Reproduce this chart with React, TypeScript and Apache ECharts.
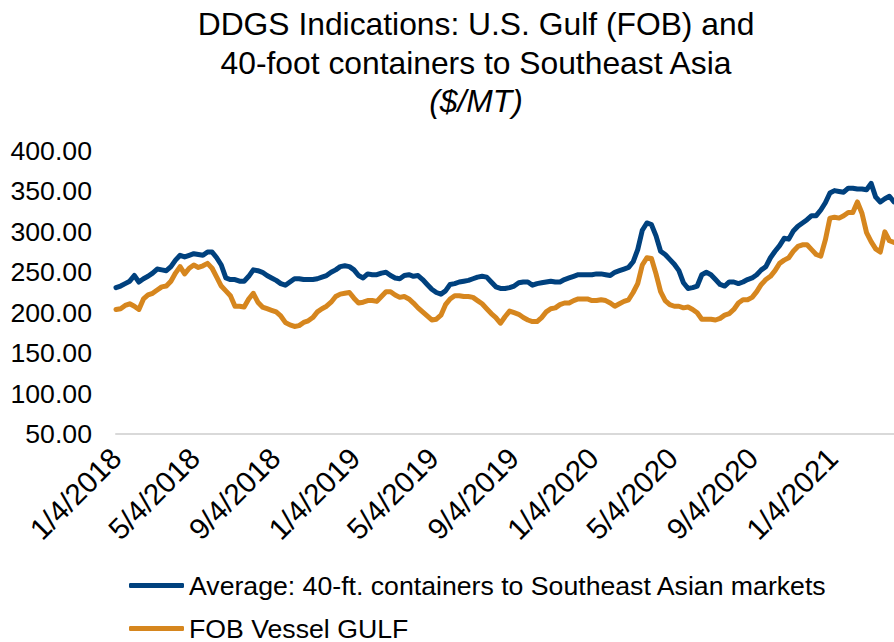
import React, { useEffect, useRef } from "react";
import * as echarts from "echarts";

// Weekly observations starting on this date
const startDate = "1/4/2018";
const weekCount = 171;

const tickLabels = [
  "1/4/2018", "5/4/2018", "9/4/2018", "1/4/2019", "5/4/2019",
  "9/4/2019", "1/4/2020", "5/4/2020", "9/4/2020", "1/4/2021",
];

const yTicks = [50, 100, 150, 200, 250, 300, 350, 400];

const seriesNames = [
  "Average: 40-ft. containers to Southeast Asian markets",
  "FOB Vessel GULF",
];

// Average: 40-ft. containers to Southeast Asian markets ($/MT)
const containerAvg = [
  231, 233, 236, 239, 246, 238, 242, 245, 249, 254, 253, 252, 257, 265, 271, 269, 271, 273, 272, 271,
  275, 275, 268, 259, 243, 241, 241, 239, 239, 245, 253, 252, 250, 246, 243, 240, 236, 234, 238, 242,
  242, 241, 241, 241, 242, 244, 246, 250, 253, 257, 258, 257, 253, 246, 243, 248, 247, 247, 249, 250,
  246, 243, 242, 246, 247, 245, 246, 241, 235, 229, 225, 223, 227, 235, 236, 238, 239, 240, 242, 244,
  245, 244, 238, 232, 230, 230, 231, 233, 237, 238, 238, 234, 236, 237, 238, 239, 238, 238, 241, 243,
  245, 247, 247, 247, 247, 248, 248, 247, 246, 250, 252, 254, 256, 263, 278, 302, 311, 309, 295, 276,
  272, 266, 260, 252, 237, 230, 231, 233, 247, 250, 247, 241, 235, 233, 238, 238, 236, 238, 241, 243,
  247, 253, 257, 268, 276, 283, 292, 291, 301, 307, 311, 315, 320, 320, 327, 336, 348, 351, 350, 349,
  354, 354, 353, 353, 352, 360, 343, 337, 341, 344, 337,
];

// FOB Vessel GULF ($/MT)
const fobGulf = [
  204, 205, 209, 211, 208, 204, 217, 222, 224, 228, 232, 233, 239, 249, 257, 248, 255, 259, 256, 258,
  261, 255, 244, 233, 227, 221, 208, 208, 207, 217, 224, 213, 207, 205, 203, 201, 196, 188, 185, 183,
  184, 188, 190, 194, 201, 205, 208, 213, 220, 223, 224, 225, 218, 212, 213, 215, 215, 214, 220, 226,
  226, 222, 219, 220, 217, 212, 206, 201, 196, 191, 192, 197, 210, 217, 221, 221, 220, 220, 219, 215,
  211, 205, 199, 194, 187, 195, 202, 200, 198, 194, 191, 189, 189, 194, 201, 205, 206, 210, 212, 212,
  215, 217, 217, 217, 215, 215, 216, 215, 212, 208, 211, 214, 216, 225, 236, 259, 268, 267, 248, 226,
  215, 210, 208, 208, 206, 207, 204, 200, 192, 192, 192, 191, 193, 197, 199, 204, 212, 216, 216, 219,
  226, 235, 241, 245, 252, 261, 265, 268, 276, 282, 284, 284, 278, 272, 270, 290, 317, 318, 317, 320,
  324, 324, 337, 323, 299, 288, 279, 275, 300, 289, 287,
];

const BLUE = "#00417E";
const ORANGE = "#D6861E";
const FONT = "'Liberation Sans', Arial, sans-serif";

function parseMDY(s: string): number {
  const [m, d, y] = s.split("/").map(Number);
  return new Date(y, m - 1, d).getTime();
}

function fmt(v: number): string {
  const d = new Date(v);
  return `${d.getMonth() + 1}/${d.getDate()}/${d.getFullYear()}`;
}

export default function App() {
  const ref = useRef<HTMLDivElement>(null);

  useEffect(() => {
    if (!ref.current) return;
    const chart = echarts.init(ref.current, undefined, { renderer: "svg" });
    const [sm, sd, sy] = startDate.split("/").map(Number);
    const dates: number[] = [];
    for (let i = 0; i < weekCount; i++) {
      dates.push(new Date(sy, sm - 1, sd + 7 * i).getTime());
    }
    const tickValues = tickLabels.map(parseMDY);

    chart.setOption({
      animation: false,
      backgroundColor: "#ffffff",
      title: [
        {
          text: "DDGS Indications: U.S. Gulf (FOB) and",
          left: 471,
          top: 3,
          textAlign: "center",
          textStyle: { fontFamily: FONT, fontSize: 31.8, fontWeight: "normal", color: "#000" },
        },
        {
          text: "40-foot containers to Southeast Asia",
          left: 471,
          top: 42,
          textAlign: "center",
          textStyle: { fontFamily: FONT, fontSize: 31.8, fontWeight: "normal", color: "#000" },
        },
        {
          text: "($/MT)",
          left: 471,
          top: 80,
          textAlign: "center",
          textStyle: { fontFamily: FONT, fontSize: 31.8, fontWeight: "normal", fontStyle: "italic", color: "#000" },
        },
      ],
      legend: {
        orient: "vertical",
        left: 124,
        top: 567,
        height: 120,
        itemWidth: 55,
        itemHeight: 5,
        itemGap: 16,
        icon: "roundRect",
        data: seriesNames,
        textStyle: { fontFamily: FONT, fontSize: 26.67, color: "#000", lineHeight: 27 },
      },
      grid: { left: 116, right: 0, top: 151, bottom: 208 },
      xAxis: {
        type: "value",
        min: dates[0],
        max: dates[dates.length - 1],
        axisLine: { show: true, lineStyle: { color: "#d9d9d9", width: 2 } },
        axisTick: { show: false },
        splitLine: { show: false },
        axisLabel: {
          customValues: tickValues,
          rotate: 45,
          margin: 19,
          fontFamily: FONT,
          fontSize: 29.5,
          color: "#000",
          formatter: (v: number) => fmt(v),
          hideOverlap: false,
        },
      },
      yAxis: {
        type: "value",
        min: yTicks[0],
        max: yTicks[yTicks.length - 1],
        interval: 50,
        axisLine: { show: false },
        axisTick: { show: false },
        splitLine: { show: false },
        axisLabel: {
          margin: 24,
          fontFamily: FONT,
          fontSize: 26.67,
          color: "#000",
          formatter: (v: number) => v.toFixed(2),
        },
      },
      series: [
        {
          name: seriesNames[0],
          type: "line",
          data: dates.map((d, i) => [d, containerAvg[i]]),
          showSymbol: false,
          symbol: "none",
          lineStyle: { color: BLUE, width: 5, cap: "round", join: "round" },
          itemStyle: { color: BLUE },
          z: 3,
        },
        {
          name: seriesNames[1],
          type: "line",
          data: dates.map((d, i) => [d, fobGulf[i]]),
          showSymbol: false,
          symbol: "none",
          lineStyle: { color: ORANGE, width: 5, cap: "round", join: "round" },
          itemStyle: { color: ORANGE },
          z: 2,
        },
      ],
    });
    return () => chart.dispose();
  }, []);

  return (
    <div
      ref={ref}
      style={{ position: "absolute", left: 0, top: 0, width: 894, height: 642 }}
    />
  );
}
